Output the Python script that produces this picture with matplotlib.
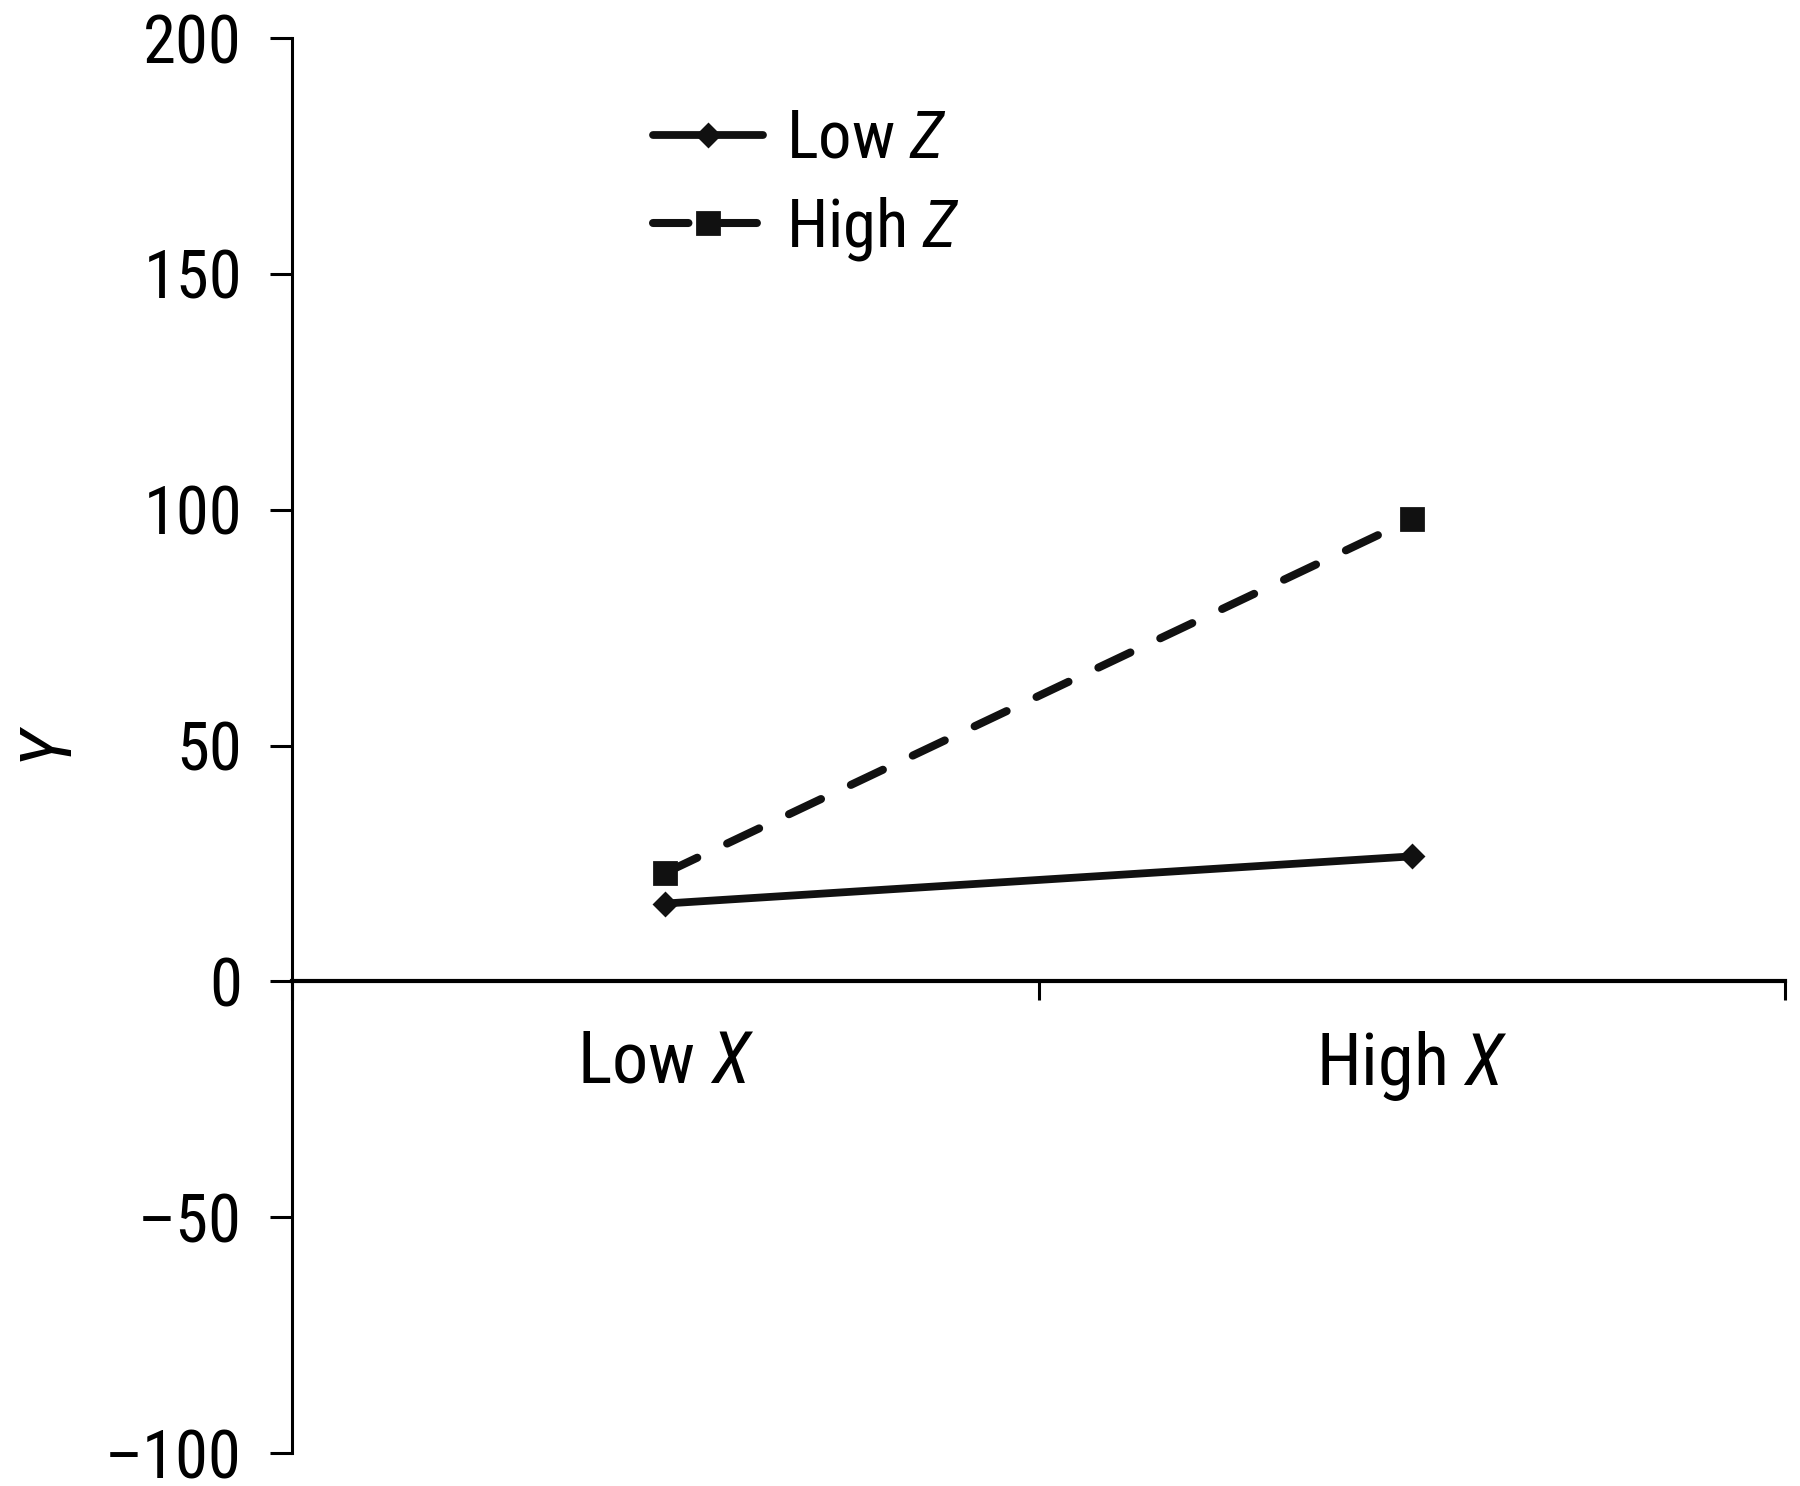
import matplotlib
matplotlib.use("Agg")
import matplotlib.pyplot as plt
from matplotlib import font_manager as fm

# ---- find a condensed sans font if one is installed ----
def pick_condensed():
    prefs = ['liberation sans narrow', 'roboto condensed', 'noto sans', 'open sans',
             'roboto', 'liberation sans', 'dejavu sans', 'lato', 'inter']
    found = []
    for f in fm.fontManager.ttflist:
        nm = f.name.lower()
        fn = f.fname.lower()
        cond = ('narrow' in nm or 'condensed' in nm or 'narrow' in fn or 'condensed' in fn
                or f.stretch in ('condensed', 'semi-condensed', 'extra-condensed'))
        if not cond or 'mono' in nm or 'serif' in nm.replace('sans', ''):
            continue
        if f.style != 'normal':
            continue
        w = f.weight if isinstance(f.weight, int) else 400
        if w not in (400, 'normal'):
            continue
        rank = len(prefs)
        for i, p in enumerate(prefs):
            if nm.startswith(p):
                rank = i
                break
        found.append((rank, f.name, f.stretch))
    if not found:
        return None
    found.sort()
    return found[0][1], found[0][2]

pc = pick_condensed()
if pc is not None:
    FAM, STRETCH = pc
    SCALE = 1.0
else:
    FAM, STRETCH = 'Liberation Sans', 'normal'
    SCALE = 0.9

plt.rcParams['font.family'] = [FAM, 'DejaVu Sans']
plt.rcParams['font.stretch'] = STRETCH
plt.rcParams['mathtext.fontset'] = 'custom'
st = '' if STRETCH == 'normal' else f':stretch={STRETCH}'
plt.rcParams['mathtext.it'] = f'{FAM}:italic{st}'
plt.rcParams['mathtext.rm'] = f'{FAM}{st}'

categories = ["Low $X$", "High $X$"]
low_z = [16.5, 26.5]
high_z = [23, 98]
series_labels = ["Low $Z$", "High $Z$"]
yticks = [-100, -50, 0, 50, 100, 150, 200]

fig = plt.figure(figsize=(9, 7.43), dpi=200)
ax = fig.add_axes([0.1622, 0.0222, 0.9917 - 0.1622, 0.9744 - 0.0222])

xpos = [0.5, 1.5]
ax.plot(xpos, low_z, color='#111111', lw=2.8, marker='D', markersize=5.8,
        solid_capstyle='round', label=series_labels[0])
ax.plot(xpos, high_z, color='#111111', lw=2.9, marker='s', markersize=8.2,
        linestyle=(0, (4.4, 4.1)), dash_capstyle='round', label=series_labels[1])

ax.set_xlim(0, 2)
ax.set_ylim(-100, 200)
ax.set_yticks(yticks)
ax.set_yticklabels([f"{v}".replace('-', '\u2013') for v in yticks])
ax.tick_params(axis='y', direction='out', length=8, width=1.1, pad=10,
               labelsize=24 * SCALE)

ax.set_xticks([0, 1, 2])
ax.set_xticklabels(['', '', ''])
ax.set_xticks(xpos, minor=True)
ax.set_xticklabels(categories, minor=True)
ax.tick_params(axis='x', which='major', direction='out', length=7, width=1.1)
ax.tick_params(axis='x', which='minor', length=0, pad=17, labelsize=26 * SCALE)

ax.spines['top'].set_visible(False)
ax.spines['right'].set_visible(False)
ax.spines['bottom'].set_position(('data', 0))
ax.spines['bottom'].set_linewidth(1.5)
ax.spines['left'].set_linewidth(1.1)

fig.text(0.029, 0.498, "$Y$", rotation=90, fontsize=26 * SCALE, ha='center', va='center')

leg = ax.legend(loc='upper left', bbox_to_anchor=(653 / 1800, 1 - 108 / 1486),
                bbox_transform=fig.transFigure, frameon=False, fontsize=24 * SCALE,
                handlelength=1.65 / SCALE, handletextpad=0.35, labelspacing=0.35,
                borderpad=0, borderaxespad=0)

fig.savefig("out.png", dpi=200)
